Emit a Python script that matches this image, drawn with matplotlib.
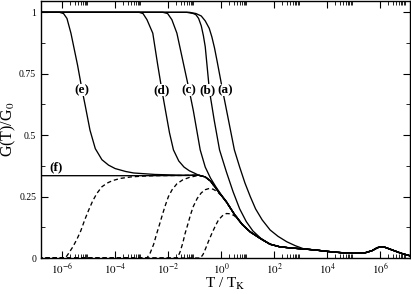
import numpy as np
import matplotlib
matplotlib.use("Agg")
from matplotlib import pyplot as plt
from matplotlib.ticker import FixedLocator, NullFormatter

plt.rcParams['font.family'] = ['Liberation Serif', 'DejaVu Serif']
plt.rcParams['mathtext.fontset'] = 'stix'

# values, x as log10(T/T_K)
univ_logT = [-0.85, -0.6, -0.4, -0.1, 0.2, 0.5, 0.8, 1.1, 1.5, 1.85, 2.2, 2.6, 3.1,
             3.6, 4.0, 4.5, 5.0, 5.4, 5.7, 5.9, 6.05, 6.2, 6.5, 6.8, 7.2]
univ_G = [0.337, 0.33, 0.313, 0.27, 0.228, 0.178, 0.136, 0.106, 0.078, 0.056, 0.046, 0.041, 0.037,
          0.032, 0.027, 0.022, 0.019, 0.02, 0.03, 0.042, 0.046, 0.043, 0.031, 0.019, 0.007]

a_logT = [-6.9, -1.2, -0.95, -0.75, -0.6, -0.45, -0.35, -0.25, -0.15, 0.06, 0.28, 0.5, 0.7,
          0.9, 1.1, 1.3, 1.55, 1.85, 2.15, 2.48, 2.8, 3.1]
a_G = [1.0, 1.0, 0.995, 0.985, 0.965, 0.935, 0.9, 0.855, 0.8, 0.68, 0.56, 0.44, 0.37,
       0.305, 0.25, 0.2, 0.155, 0.114, 0.088, 0.066, 0.05, 0.038]

b_logT = [-6.9, -1.3, -1.05, -0.95, -0.85, -0.75, -0.67, -0.6, -0.52, -0.44, -0.26, -0.06,
          0.2, 0.45, 0.7, 0.95, 1.2, 1.5]
b_G = [1.0, 1.0, 0.995, 0.99, 0.975, 0.945, 0.905, 0.86, 0.77, 0.68, 0.56, 0.44,
       0.35, 0.27, 0.2, 0.148, 0.11, 0.08]

c_logT = [-6.9, -2.2, -2.02, -1.86, -1.67, -1.5, -1.35, -1.2, -1.05, -0.92, -0.79, -0.6,
          -0.4, -0.2, 0.0, 0.2]
c_G = [1.0, 1.0, 0.995, 0.97, 0.915, 0.83, 0.755, 0.68, 0.6, 0.52, 0.44, 0.37,
       0.325, 0.29, 0.258, 0.23]

d_logT = [-6.9, -3.1, -2.95, -2.8, -2.58, -2.4, -2.24, -2.1, -1.95, -1.8, -1.6, -1.4, -1.2, -1.0]
d_G = [1.0, 1.0, 0.995, 0.97, 0.915, 0.79, 0.685, 0.6, 0.51, 0.44, 0.395, 0.37, 0.355, 0.345]

e_logT = [-6.9, -6.1, -5.95, -5.82, -5.67, -5.42, -5.26, -5.13, -4.95, -4.75, -4.5, -4.25,
          -4.0, -3.6, -3.3, -2.5, -1.5]
e_G = [1.0, 1.0, 0.995, 0.975, 0.915, 0.785, 0.69, 0.62, 0.52, 0.445, 0.40, 0.378,
       0.364, 0.352, 0.346, 0.34, 0.337]

f_logT = [-6.9, -3.0, -1.2]
f_G = [0.335, 0.335, 0.336]

# dashed curves rising from zero
d1_logT = [-6.9, -5.88, -5.75, -5.6, -5.45, -5.3, -5.15, -5.0, -4.85, -4.69, -4.5, -4.3,
           -4.1, -3.8, -3.4, -3.0, -2.5, -1.5]
d1_G = [0.0, 0.0, 0.02, 0.045, 0.075, 0.11, 0.155, 0.195, 0.232, 0.263, 0.29, 0.305,
        0.315, 0.324, 0.33, 0.333, 0.335, 0.336]
d2_logT = [-6.9, -2.8, -2.68, -2.55, -2.43, -2.33, -2.24, -2.12, -1.99, -1.85, -1.67,
           -1.45, -1.2, -0.95]
d2_G = [0.0, 0.0, 0.02, 0.055, 0.10, 0.135, 0.168, 0.21, 0.25, 0.278, 0.302,
        0.318, 0.328, 0.334]
d3_logT = [-6.9, -1.65, -1.55, -1.45, -1.36, -1.25, -1.15, -1.05, -0.9, -0.75, -0.6,
           -0.45, -0.3, -0.15, 0.0]
d3_G = [0.0, 0.0, 0.025, 0.06, 0.10, 0.14, 0.178, 0.21, 0.243, 0.265, 0.278,
        0.283, 0.28, 0.27, 0.255]
d4_logT = [-6.9, -0.78, -0.68, -0.58, -0.47, -0.35, -0.22, -0.1, 0.05, 0.2, 0.35, 0.5, 0.65]
d4_G = [0.0, 0.0, 0.015, 0.04, 0.07, 0.10, 0.13, 0.155, 0.172, 0.181, 0.18, 0.172, 0.155]

labels = ['(a)', '(b)', '(c)', '(d)', '(e)']
label_logT = [0.16, -0.52, -1.23, -2.24, -5.26]
label_G = 0.684

xtick_exp = [-6, -4, -2, 0, 2, 4, 6]
ytick_vals = [0, 0.25, 0.5, 0.75, 1]
ytick_text = ['0', '0.25', '0.5', '0.75', '1']


def with_tail(lt, g):
    # after the last own point the curve runs on the common high-T curve
    lt = list(lt)
    g = list(g)
    for x, y in zip(univ_logT, univ_G):
        if x > lt[-1]:
            lt.append(x)
            g.append(y)
    return 10.0 ** np.array(lt), np.array(g)


f = plt.figure(figsize=(4.11, 2.94), dpi=100)
ax = f.add_axes([41 / 411, 36 / 294, 369 / 411, 257 / 294])

dash = (0, (3.2, 2.2))
for lt, g in [(d1_logT, d1_G), (d2_logT, d2_G), (d3_logT, d3_G), (d4_logT, d4_G)]:
    x, y = with_tail(lt, g)
    ax.plot(x, y, color='k', lw=0.95, linestyle=dash)

for lt, g in [(f_logT, f_G), (e_logT, e_G), (d_logT, d_G), (c_logT, c_G),
              (b_logT, b_G), (a_logT, a_G)]:
    x, y = with_tail(lt, g)
    ax.plot(x, y, color='k', lw=0.95)

for txt, lx in zip(labels, label_logT):
    ax.text(10 ** lx, label_G, txt, fontsize=9.5, fontweight='bold', ha='center', va='center',
            zorder=5, bbox=dict(facecolor='white', edgecolor='none', pad=0.3))
ax.text(10 ** -6.23, 0.37, '(f)', fontsize=9.5, fontweight='bold', ha='center', va='center')

ax.set_xscale('log')
ax.set_xlim(10 ** -6.8, 10 ** 7.13)
ax.set_ylim(0, 1.046)

ax.xaxis.set_major_locator(FixedLocator([10.0 ** e for e in xtick_exp]))
ax.set_xticklabels([r'$10^{%d}$' % e for e in xtick_exp])
minor_x = [k * 10.0 ** e for e in range(-8, 8, 2) for k in range(2, 10)]
ax.xaxis.set_minor_locator(FixedLocator(minor_x))
ax.xaxis.set_minor_formatter(NullFormatter())

ax.set_yticks(ytick_vals)
ax.set_yticklabels(ytick_text)
ax.yaxis.set_minor_locator(FixedLocator(np.arange(0.125, 1.0, 0.25)))

ax.tick_params(which='both', direction='in', top=True, right=True)
ax.tick_params(axis='x', labelsize=8, pad=2.5)
ax.tick_params(axis='y', labelsize=7, pad=3.5)
ax.tick_params(which='major', length=5, width=0.8)
ax.tick_params(which='minor', length=2.8, width=0.6)
for s in ax.spines.values():
    s.set_linewidth(1.0)

ax.set_xlabel(r'T / T$_\mathrm{K}$', fontsize=11)
ax.xaxis.set_label_coords(0.5, -0.07)
ax.set_ylabel(r'G(T)/G$_0$', fontsize=11.5)
ax.yaxis.set_label_coords(-0.062, 0.5)

f.savefig('out.png', dpi=100)
